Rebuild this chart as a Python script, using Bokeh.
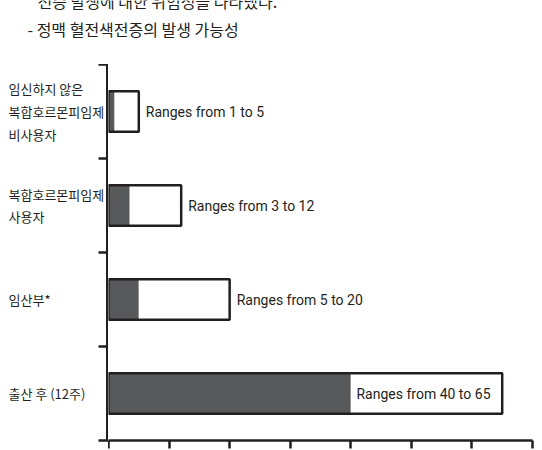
from bokeh.plotting import figure
from bokeh.layouts import column, row
from bokeh.models import ColumnDataSource, FixedTicker, Range1d, LinearAxis
from bokeh.core.properties import value
from bokeh.embed import file_html
from bokeh.resources import INLINE

# ---- data ----
categories = ["임신하지 않은\n복합호르몬피임제\n비사용자", "복합호르몬피임제\n사용자", "임산부*", "출산 후 (12주)"]
range_low = [1, 3.5, 5, 40]
range_high = [5, 12, 20, 65]
value_labels = ["Ranges from 1 to 5", "Ranges from 3 to 12", "Ranges from 5 to 20", "Ranges from 40 to 65"]
title_lines = ["전증 발생에 대한 위험성을 나타냈다.", "- 정맥 혈전색전증의 발생 가능성"]
x_ticks = [0, 10, 20, 30, 40, 50, 60, 70]
y_ticks = [0, 1, 2, 3, 4]

# ---- style / layout ----
INK = "#231f20"
DARK = "#58595b"
KFONT = "Noto Sans CJK KR"
EFONT = "Roboto"

W, H = 542, 450
HDR_H = 64          # header band with the title lines
LAB_W = 108         # band with the category names (y axis sits on its right edge)
AX_PAD = 10         # room for the x-axis ticks
XMAX, YMAX = 70, 4
BODY_H = H - HDR_H

n = len(categories)
ypos = [YMAX - 0.5 - i for i in range(n)]
yr = Range1d(0, YMAX)


def bare(fig):
    fig.outline_line_color = None
    fig.grid.visible = False
    fig.background_fill_color = "white"
    fig.border_fill_color = "white"
    return fig


def style_axis(ax):
    ax.axis_line_color = INK
    ax.axis_line_width = 2.5
    ax.major_tick_line_color = INK
    ax.major_tick_line_width = 2.5
    ax.minor_tick_line_color = None
    ax.minor_tick_out = 0
    ax.minor_tick_in = 0
    ax.major_label_text_font_size = "0px"
    ax.major_label_standoff = 0


# header with title text (first line partly cut off at the top)
hdr = bare(figure(width=W, height=HDR_H, x_range=Range1d(0, W), y_range=Range1d(0, HDR_H),
                  min_border=0, x_axis_location=None, y_axis_location=None,
                  output_backend="svg", toolbar_location=None))
hdr.text(x=[37, 27], y=[HDR_H - 0, HDR_H - 28], text=title_lines,
         text_font=value(KFONT), text_font_size="16px", text_color=INK,
         text_align="left", text_baseline="middle")

# category names + the category (y) axis on the right edge, ticks pointing left
lab = bare(figure(width=LAB_W, height=BODY_H, x_range=Range1d(0, LAB_W), y_range=yr,
                  min_border=0, min_border_bottom=AX_PAD, x_axis_location=None,
                  y_axis_location=None, output_backend="svg", toolbar_location=None))
yax = LinearAxis(ticker=FixedTicker(ticks=y_ticks))
style_axis(yax)
yax.axis_line_width = 5      # half of it falls past the canvas edge
yax.major_tick_out = 0
yax.major_tick_in = 10
lab.add_layout(yax, "right")
lab.text(x=[8] * n, y=ypos, text=categories, text_font=value(KFONT), text_font_size="13px",
         text_color=INK, text_align="left", text_baseline="middle", text_line_height=1.2)

# chart
p = bare(figure(width=W - LAB_W, height=BODY_H, x_range=Range1d(0, XMAX), y_range=yr,
                min_border_left=0, min_border_right=AX_PAD, min_border_top=0,
                min_border_bottom=AX_PAD, y_axis_location=None,
                output_backend="svg", toolbar_location=None))
style_axis(p.xaxis[0])
p.xaxis.ticker = FixedTicker(ticks=x_ticks)
p.xaxis.major_tick_in = 0
p.xaxis.major_tick_out = 8

inside = [h > XMAX * 0.6 for h in range_high]
src = ColumnDataSource(dict(
    y=ypos, low=range_low, high=range_high, label=value_labels,
    lx=[(lo + hi) / 2 if ins else hi for lo, hi, ins in zip(range_low, range_high, inside)],
    align=["center" if ins else "left" for ins in inside],
    xoff=[-3 if ins else 7 for ins in inside],
))
bh = 0.43
p.hbar(y="y", left=0, right="low", height=bh, source=src, fill_color=DARK, line_color=None)
p.hbar(y="y", left="low", right="high", height=bh, source=src, fill_color="white", line_color=None)
p.hbar(y="y", left=0, right="high", height=bh, source=src, fill_color=None,
       line_color=INK, line_width=2.5)
p.text(x="lx", y="y", text="label", x_offset="xoff", text_align="align", source=src,
       text_baseline="middle", text_font=value(EFONT), text_font_size="14px", text_color=INK)

layout = column(hdr, row(lab, p, spacing=0), spacing=0)
open("out.html", "w").write(file_html(layout, INLINE))
